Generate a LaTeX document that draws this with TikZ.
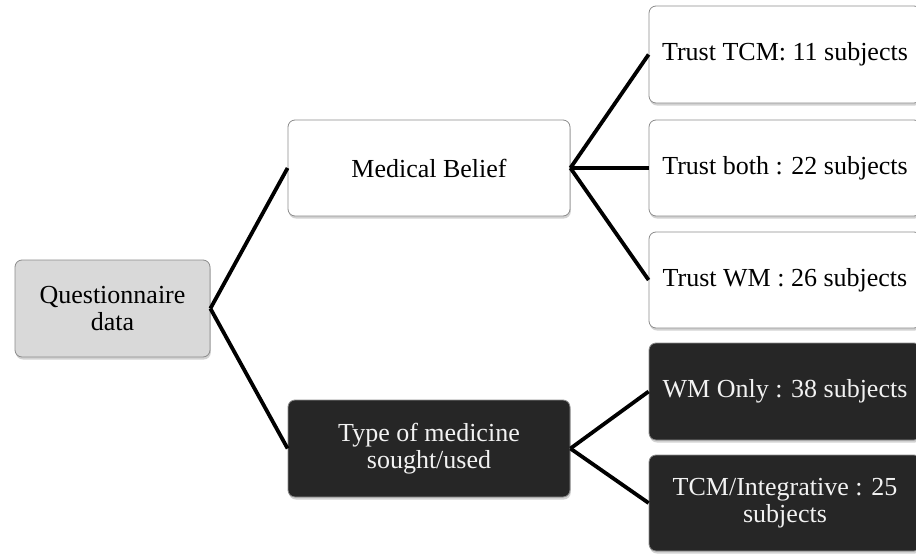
\documentclass[tikz,border=0pt]{standalone}
\usepackage{fontspec}
\setmainfont{Liberation Serif}
\usetikzlibrary{shadows}
\definecolor{boxline}{HTML}{8C8C8C}
\definecolor{lightfill}{HTML}{D9D9D9}
\definecolor{darkfill}{HTML}{262626}
\begin{document}
\begin{tikzpicture}[x=1pt,y=-1pt,
  box/.style={draw=boxline, line width=0.8pt, rounded corners=7pt, align=center,
    font=\fontsize{26}{27.5}\selectfont, inner sep=0pt,
    drop shadow={opacity=0.35, shadow xshift=0.8pt, shadow yshift=-2.5pt}},
  lightbox/.style={box, fill=lightfill, text=black},
  whitebox/.style={box, fill=white, text=black},
  darkbox/.style={box, fill=darkfill, text=white!95!black},
  link/.style={line width=3.8pt, black}]
\clip (0,0) rectangle (916,554);
\fill[white] (0,0) rectangle (916,554);
\node[lightbox, minimum width=195pt, minimum height=97pt] (q) at (112.5,308.5) {Questionnaire\\data};
\node[whitebox, minimum width=282pt, minimum height=96pt] (mb) at (429,168) {Medical Belief};
\node[darkbox, minimum width=282pt, minimum height=97pt] (tm) at (429,448.5) {Type of medicine\\sought/used};
\node[whitebox, minimum width=272pt, minimum height=97pt] (t1) at (785,54.5) {Trust TCM: 11 subjects};
\node[whitebox, minimum width=272pt, minimum height=96pt] (t2) at (785,168) {Trust both : 22 subjects};
\node[whitebox, minimum width=272pt, minimum height=96pt] (t3) at (785,280) {Trust WM : 26 subjects};
\node[darkbox, minimum width=272pt, minimum height=97pt] (w1) at (785,391.5) {WM Only : 38 subjects};
\node[darkbox, minimum width=272pt, minimum height=96pt] (w2) at (785,503) {TCM/Integrative : 25\\subjects};
\draw[link] (q.east) -- (mb.west);
\draw[link] (q.east) -- (tm.west);
\draw[link] (mb.east) -- (t1.west);
\draw[link] (mb.east) -- (t2.west);
\draw[link] (mb.east) -- (t3.west);
\draw[link] (tm.east) -- (w1.west);
\draw[link] (tm.east) -- (w2.west);
\end{tikzpicture}
\end{document}
